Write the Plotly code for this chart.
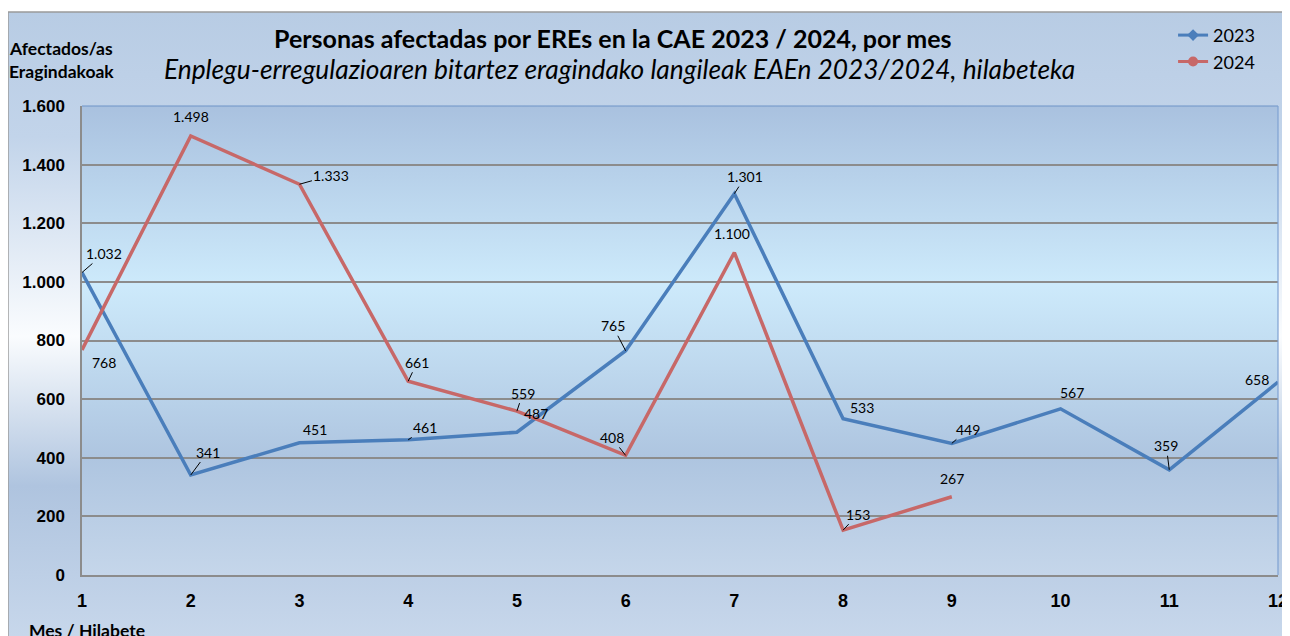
import base64
import plotly.graph_objects as go

# --- data ---
months = [1, 2, 3, 4, 5, 6, 7, 8, 9, 10, 11, 12]
afectados_2023 = [1032, 341, 451, 461, 487, 765, 1301, 533, 449, 567, 359, 658]
afectados_2024 = [768, 1498, 1333, 661, 559, 408, 1100, 153, 267]
y_ticks = [0, 200, 400, 600, 800, 1000, 1200, 1400, 1600]

# label offsets in px (style only) and whether a leader line is drawn
off_2023 = [(22, -19), (17, -23), (16, -13), (17, -12), (19, -19), (-13, -25),
            (11, -17), (19, -11), (16, -14), (11, -16), (-3, -24), (-21, -3)]
lead_2023 = [1, 1, 0, 1, 0, 1, 1, 0, 1, 0, 1, 0]
off_2024 = [(22, 13), (0, -19), (32, -9), (9, -19), (6, -18), (-14, -18),
            (-2, -19), (15, -16), (0, -18)]
lead_2024 = [0, 0, 1, 1, 1, 1, 0, 1, 0]

blue = '#4A7EBB'
red = '#C76868'


def gradient_uri(stops):
    st = ''.join(f'<stop offset="{o}" stop-color="{c}"/>' for o, c in stops)
    svg = ('<svg xmlns="http://www.w3.org/2000/svg" width="100" height="100" '
           'viewBox="0 0 100 100" preserveAspectRatio="none"><defs>'
           f'<linearGradient id="g" x1="0" y1="0" x2="0" y2="1">{st}</linearGradient>'
           '</defs><rect width="100" height="100" fill="url(#g)"/></svg>')
    return 'data:image/svg+xml;base64,' + base64.b64encode(svg.encode()).decode()


outer_bg = gradient_uri([(0, '#B8CCE4'), (0.2, '#C2D4EA'), (0.52, '#FAFCFE'),
                         (0.76, '#AFC4DF'), (1, '#C7D7EB')])
plot_bg = gradient_uri([(0, '#A9C1DF'), (0.38, '#CDEAFB'), (0.75, '#AEC5E0'),
                        (1, '#C5D6EA')])

fig = go.Figure()

fig.add_trace(go.Scatter(x=months, y=afectados_2023, mode='lines', name='2023',
                         line=dict(color=blue, width=3.5), showlegend=False))
fig.add_trace(go.Scatter(x=months[:len(afectados_2024)], y=afectados_2024, mode='lines',
                         name='2024', line=dict(color=red, width=3.5), showlegend=False))
# legend entries with markers
fig.add_trace(go.Scatter(x=[None], y=[None], mode='lines+markers', name='2023',
                         line=dict(color=blue, width=3),
                         marker=dict(symbol='diamond', size=9, color=blue)))
fig.add_trace(go.Scatter(x=[None], y=[None], mode='lines+markers', name='2024',
                         line=dict(color=red, width=3),
                         marker=dict(symbol='circle', size=10, color=red)))


def fmt(v):
    return f'{v:,}'.replace(',', '.')


annotations = []
for vals, offs, leads in [(afectados_2023, off_2023, lead_2023),
                          (afectados_2024, off_2024, lead_2024)]:
    for m, v, (dx, dy), ld in zip(months, vals, offs, leads):
        annotations.append(dict(
            x=m, y=v, xref='x', yref='y', text=fmt(v), showarrow=True,
            ax=dx, ay=dy, arrowhead=0, arrowwidth=1, standoff=0,
            arrowcolor='black' if ld else 'rgba(0,0,0,0)',
            font=dict(family='Lato, sans-serif', size=14, color='black')))

annotations += [
    dict(text='<b>Personas afectadas por EREs en la CAE 2023 / 2024, por mes</b>',
         x=0.444, y=1.145, xref='paper', yref='paper', showarrow=False,
         xanchor='center', yanchor='middle',
         font=dict(family='Lato, sans-serif', size=25, color='black')),
    dict(text='<i>Enplegu-erregulazioaren bitartez eragindako langileak EAEn 2023/2024, hilabeteka</i>',
         x=0.449, y=1.079, xref='paper', yref='paper', showarrow=False,
         xanchor='center', yanchor='middle',
         font=dict(family='Lato, sans-serif', size=26.3, color='black')),
    dict(text='<b>Afectados/as<br>Eragindakoak</b>', x=-0.017, y=1.098,
         xref='paper', yref='paper', showarrow=False, align='center',
         xanchor='center', yanchor='middle',
         font=dict(family='Lato, sans-serif', size=17.5, color='black')),
    dict(text='<b>Mes / Hilabete</b>', x=-0.046, y=-0.118, xanchor='left',
         yanchor='middle', xref='paper', yref='paper', showarrow=False,
         font=dict(family='Lato, sans-serif', size=17.5, color='black')),
]

# the page adds an 8px body margin, so the figure is 8px smaller on each axis
fig.update_layout(
    width=1282, height=628,
    margin=dict(l=74, r=12, t=98, b=61, autoexpand=False),
    paper_bgcolor='white',
    plot_bgcolor='rgba(0,0,0,0)',
    separators=',.',
    annotations=annotations,
    images=[
        dict(source=outer_bg, xref='paper', yref='paper', x=-0.0619, y=1.2004,
             sizex=1.08, sizey=1.3305, sizing='stretch', xanchor='left',
             yanchor='top', layer='below'),
        dict(source=plot_bg, xref='paper', yref='paper', x=0, y=1,
             sizex=1, sizey=1, sizing='stretch', xanchor='left',
             yanchor='top', layer='below'),
    ],
    shapes=[
        dict(type='line', xref='paper', yref='paper', x0=-0.0619, x1=-0.0619,
             y0=1.2004, y1=-0.2, line=dict(color='#9A9A9A', width=1.5)),
        dict(type='line', xref='paper', yref='paper', x0=-0.0619, x1=1.1,
             y0=1.2004, y1=1.2004, line=dict(color='#9A9A9A', width=1.5)),
        dict(type='line', xref='paper', yref='paper', x0=0, x1=1, y0=1, y1=1,
             line=dict(color='#6F93C8', width=1.2)),
        dict(type='line', xref='paper', yref='paper', x0=1, x1=1, y0=0, y1=1,
             line=dict(color='#7FA2D2', width=1.2)),
    ],
    legend=dict(x=0.985, y=1.19, xanchor='right', yanchor='top',
                bgcolor='rgba(0,0,0,0)', tracegroupgap=0,
                font=dict(family='Lato, sans-serif', size=18, color='black'),
                itemwidth=30),
    showlegend=True,
)

fig.update_xaxes(range=[1, 12], tickvals=months, showgrid=False, zeroline=False,
                 showline=True, linecolor='#8C8C8C', linewidth=1.5,
                 ticks='', ticklabelstandoff=9,
                 tickfont=dict(family='Liberation Sans, Arial', size=18,
                               color='black', weight='bold'))
fig.update_yaxes(range=[0, 1600], tickvals=y_ticks, tickformat=',d',
                 showgrid=True, gridcolor='#8C8C8C', gridwidth=1.5, zeroline=False,
                 showline=True, linecolor='#8C8C8C', linewidth=1.5,
                 ticks='', ticklabelstandoff=12,
                 tickfont=dict(family='Liberation Sans, Arial', size=17,
                               color='black', weight='bold'))

fig.write_html('out.html')
